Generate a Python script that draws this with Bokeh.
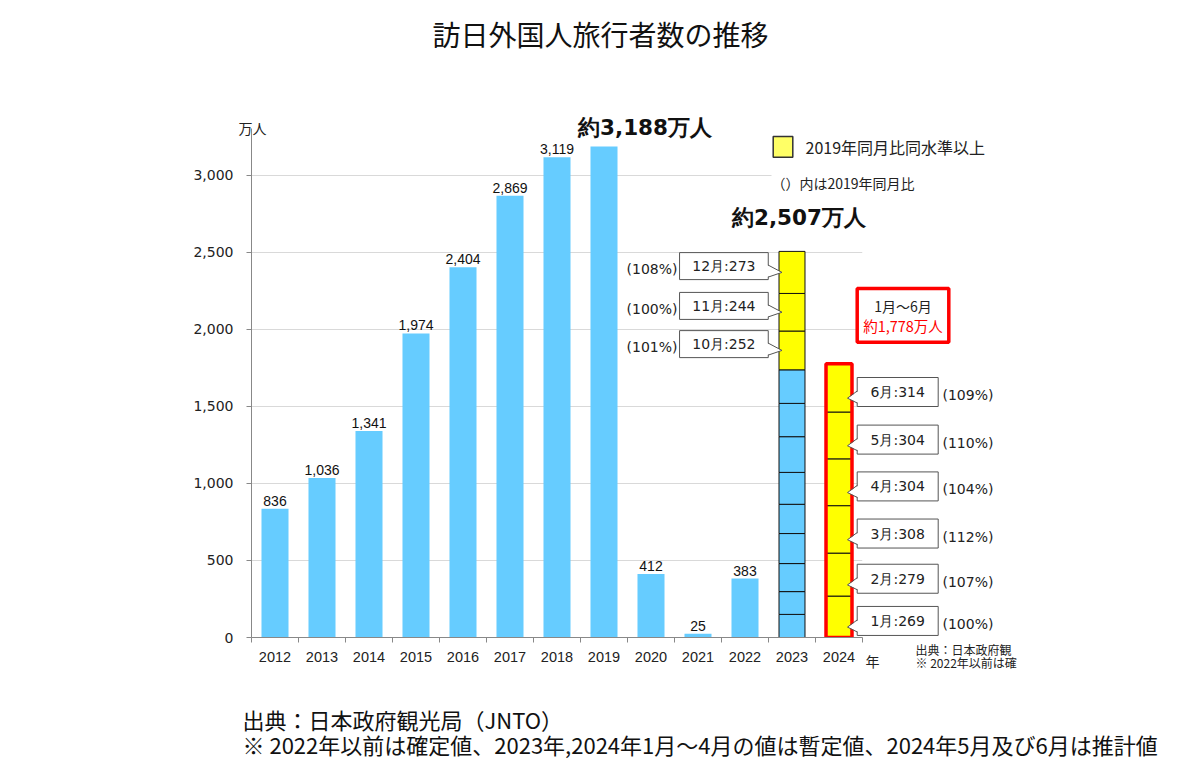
from bokeh.plotting import figure
from bokeh.models import Range1d, FixedTicker, NumeralTickFormatter
from bokeh.core.properties import value
from bokeh.embed import file_html
from bokeh.resources import INLINE

# ---------------- data ----------------
years = [2012, 2013, 2014, 2015, 2016, 2017, 2018, 2019, 2020, 2021, 2022]
visitors = [836, 1036, 1341, 1974, 2404, 2869, 3119, 3188, 412, 25, 383]
label_years = [2012, 2013, 2014, 2015, 2016, 2017, 2018, 2020, 2021, 2022]
label_values = [836, 1036, 1341, 1974, 2404, 2869, 3119, 412, 25, 383]

months_2023 = [1, 2, 3, 4, 5, 6, 7, 8, 9, 10, 11, 12]
values_2023 = [150, 148, 182, 195, 190, 207, 232, 216, 218, 252, 244, 273]
above_2019_2023 = [False] * 9 + [True] * 3
callout_months_2023 = [10, 11, 12]
pct_2023 = [101, 100, 108]

months_2024 = [1, 2, 3, 4, 5, 6]
values_2024 = [269, 279, 308, 304, 304, 314]
pct_2024 = [100, 107, 112, 104, 110, 109]

total_2019 = 3188
total_2023 = 2507
total_2024_h1 = 1778

y_ticks = [0, 500, 1000, 1500, 2000, 2500, 3000]
x_ticks = list(range(2012, 2025))

# ---------------- layout helpers ----------------
W, H = 1184, 762
FW, FH = 611, 509
ML, MT = 251, 128
MR, MB = W - ML - FW, H - MT - FH
Y_TOP = 3305
XPX = FW / 13.0
YPX = FH / Y_TOP


def X(px):  # page x -> data x
    return 2011.5 + (px - ML) / XPX


def Y(py):  # page y -> data y
    return (MT + FH - py) / YPX


def dx(px):
    return px / XPX


def dy(px):
    return px / YPX


JP = value("Noto Sans CJK JP")
DV = value("DejaVu Sans")
AR = value("Liberation Sans")

BLUE = "#66ccff"
YELLOW = "#ffff00"
BORDER = "#555555"

p = figure(width=W, height=H, x_range=Range1d(2011.5, 2024.5), y_range=Range1d(0, Y_TOP),
           output_backend="svg", toolbar_location=None,
           min_border_left=ML, min_border_right=MR, min_border_top=MT, min_border_bottom=MB)
p.outline_line_color = None
p.background_fill_color = "white"
p.border_fill_color = "white"
p.xgrid.visible = False
p.ygrid.ticker = FixedTicker(ticks=y_ticks)
p.ygrid.grid_line_color = "#d9d9d9"

# axes
p.xaxis.ticker = FixedTicker(ticks=x_ticks, minor_ticks=[y - 0.5 for y in x_ticks] + [2024.5])
p.xaxis.major_tick_out = 0
p.xaxis.major_tick_in = 0
p.xaxis.minor_tick_out = 5
p.xaxis.minor_tick_in = 0
p.xaxis.minor_tick_line_color = "#888888"
p.xaxis.axis_line_color = "#888888"
p.xaxis.major_label_text_font = "Liberation Sans"
p.xaxis.major_label_text_font_size = "14.5px"
p.xaxis.major_label_text_color = "#222222"
p.xaxis.major_label_standoff = 9

p.yaxis.ticker = FixedTicker(ticks=y_ticks)
p.yaxis.formatter = NumeralTickFormatter(format="0,0")
p.yaxis.major_tick_out = 5
p.yaxis.major_tick_in = 0
p.yaxis.minor_tick_out = 0
p.yaxis.minor_tick_in = 0
p.yaxis.major_tick_line_color = "#888888"
p.yaxis.axis_line_color = "#888888"
p.yaxis.major_label_text_font = "DejaVu Sans"
p.yaxis.major_label_text_font_size = "14px"
p.yaxis.major_label_text_color = "#222222"
p.yaxis.major_label_standoff = 13

# ---------------- bars ----------------
p.vbar(x=years, top=visitors, width=0.575, fill_color=BLUE, line_color=None)
p.text(x=label_years, y=label_values, text=[f"{v:,}" for v in label_values],
       text_font=AR, text_font_size="14px", text_align="center", text_baseline="bottom",
       y_offset=-3, text_color="#111111")

# 2023 stacked
tops23, bots23 = [], []
acc = 0
for v in values_2023:
    bots23.append(acc)
    acc += v
    tops23.append(acc)
p.vbar(x=[2023] * 12, bottom=bots23, top=tops23, width=0.553,
       fill_color=[YELLOW if a else BLUE for a in above_2019_2023],
       line_color="#111111", line_width=1)

# 2024 stacked
tops24, bots24 = [], []
acc = 0
for v in values_2024:
    bots24.append(acc)
    acc += v
    tops24.append(acc)
p.vbar(x=[2024] * 6, bottom=bots24, top=tops24, width=0.553,
       fill_color=YELLOW, line_color="#111111", line_width=1)
p.vbar(x=[2024], bottom=[0], top=[total_2024_h1], width=0.553, fill_color=None,
       line_color="#ff0000", line_width=3.5)

# ---------------- totals ----------------
p.text(x=[2019], y=[total_2019], text=[f"約{total_2019:,}万人"], text_font=DV,
       text_font_style="bold", text_font_size="21.5px", text_align="left",
       text_baseline="bottom", x_offset=-26, y_offset=-7, text_color="#111111", level="overlay")
p.text(x=[2023], y=[total_2023], text=[f"約{total_2023:,}万人"], text_font=DV,
       text_font_style="bold", text_font_size="21.5px", text_align="center",
       text_baseline="bottom", x_offset=7, y_offset=-21, text_color="#111111", level="overlay")

# ---------------- callouts 2023 ----------------
idx23 = [months_2023.index(m) for m in callout_months_2023]
mid23 = [(bots23[i] + tops23[i]) / 2 for i in idx23]
box23_y = [m + 41 for m in mid23]
box23_x = X(723.4)
p.rect(x=[box23_x] * 3, y=box23_y, width=dx(88.7), height=dy(27), fill_color="white",
       line_color=BORDER, line_width=1, level="overlay")
bx = X(767.7)
tipx = X(781.5)
p.patches(xs=[[bx - dx(1.5), tipx, bx - dx(1.5)] for _ in idx23],
          ys=[[by + dy(1), m, by - dy(11)] for by, m in zip(box23_y, mid23)],
          fill_color="white", line_color=None, level="overlay")
p.multi_line(xs=[[bx, tipx, bx] for _ in idx23],
             ys=[[by + dy(1), m, by - dy(11)] for by, m in zip(box23_y, mid23)],
             line_color=BORDER, line_width=1, level="overlay")
p.text(x=[box23_x] * 3, y=box23_y,
       text=[f"{months_2023[i]}月:{values_2023[i]}" for i in idx23],
       text_font=DV, text_font_size="14px", text_align="center", text_baseline="middle",
       text_color="#222222", level="overlay")
p.text(x=[X(677)] * 3, y=[b - dy(3) for b in box23_y], text=[f"({v}%)" for v in pct_2023],
       text_font=DV, text_font_size="14px", text_align="right", text_baseline="middle",
       text_color="#222222", level="overlay")

# ---------------- callouts 2024 ----------------
mid24 = [(b + t) / 2 for b, t in zip(bots24, tops24)]
box24_y = [m - 27 for m in mid24]
tip24_y = [m - 67 for m in mid24]
box24_x = X(897.2)
p.rect(x=[box24_x] * 6, y=box24_y, width=dx(81), height=dy(29), fill_color="white",
       line_color=BORDER, line_width=1, level="overlay")
bx2 = X(856.7)
tipx2 = X(847)
p.patches(xs=[[bx2 + dx(1.5), tipx2, bx2 + dx(1.5)] for _ in months_2024],
          ys=[[by + dy(1), t, by - dy(11)] for by, t in zip(box24_y, tip24_y)],
          fill_color="white", line_color=None, level="overlay")
p.multi_line(xs=[[bx2, tipx2, bx2] for _ in months_2024],
             ys=[[by + dy(1), t, by - dy(11)] for by, t in zip(box24_y, tip24_y)],
             line_color=BORDER, line_width=1, level="overlay")
p.text(x=[box24_x] * 6, y=box24_y, text=[f"{m}月:{v}" for m, v in zip(months_2024, values_2024)],
       text_font=DV, text_font_size="14px", text_align="center", text_baseline="middle",
       text_color="#222222", level="overlay")
p.text(x=[X(942)] * 6, y=[b - dy(3) for b in box24_y], text=[f"({v}%)" for v in pct_2024],
       text_font=DV, text_font_size="14px", text_align="left", text_baseline="middle",
       text_color="#222222", level="overlay")

# red summary box
p.rect(x=[X(902.5)], y=[Y(314.85)], width=dx(91.6), height=dy(53.7), fill_color="white",
       line_color="#ff0000", line_width=3.5, level="overlay")
p.text(x=[X(902.5)], y=[Y(305)], text=["1月～6月"], text_font=JP, text_font_size="14px",
       text_align="center", text_baseline="middle", text_color="#222222", level="overlay")
p.text(x=[X(902.5)], y=[Y(325)], text=[f"約{total_2024_h1:,}万人"], text_font=JP,
       text_font_size="14.5px", text_align="center", text_baseline="middle",
       text_color="#ff0000", level="overlay")

# ---------------- legend / notes ----------------
p.rect(x=[X(782.5)], y=[Y(146.3)], width=dx(19.6), height=dy(20.7), fill_color="#ffff66",
       line_color="#333333", line_width=1.5, level="overlay")
p.text(x=[X(805)], y=[Y(146)], text=["2019年同月比同水準以上"], text_font=JP,
       text_font_size="16px", text_align="left", text_baseline="middle",
       text_color="#222222", level="overlay")
p.rect(x=[X(843)], y=[Y(182)], width=dx(144), height=dy(16), fill_color="white",
       line_color=None, level="overlay")
p.text(x=[X(771)], y=[Y(182)], text=["（）内は2019年同月比"], text_font=JP,
       text_font_size="14px", text_align="left", text_baseline="middle",
       text_color="#222222", level="overlay")

# title
p.text(x=[X(600)], y=[Y(33)], text=["訪日外国人旅行者数の推移"], text_font=JP,
       text_font_size="28px", text_align="center", text_baseline="middle",
       text_color="#111111", level="overlay")

# axis units
p.text(x=[X(252)], y=[Y(127)], text=["万人"], text_font=JP, text_font_size="14px",
       text_align="center", text_baseline="middle", text_color="#222222", level="overlay")
p.text(x=[X(872)], y=[Y(660)], text=["年"], text_font=JP, text_font_size="14px",
       text_align="center", text_baseline="middle", text_color="#222222", level="overlay")

# small truncated source inside chart image
p.text(x=[X(915)] * 2, y=[Y(649), Y(662)], text=["出典：日本政府観", "※ 2022年以前は確"],
       text_font=JP, text_font_size="12px", text_align="left", text_baseline="middle",
       text_color="#222222", level="overlay")

# bottom source notes
p.text(x=[X(242)] * 2, y=[Y(718), Y(743)],
       text=["出典：日本政府観光局（JNTO）",
             "※ 2022年以前は確定値、2023年,2024年1月～4月の値は暫定値、2024年5月及び6月は推計値"],
       text_font=JP, text_font_size="22px", text_align="left", text_baseline="middle",
       text_color="#111111", level="overlay")

open("out.html", "w").write(file_html(p, INLINE))
